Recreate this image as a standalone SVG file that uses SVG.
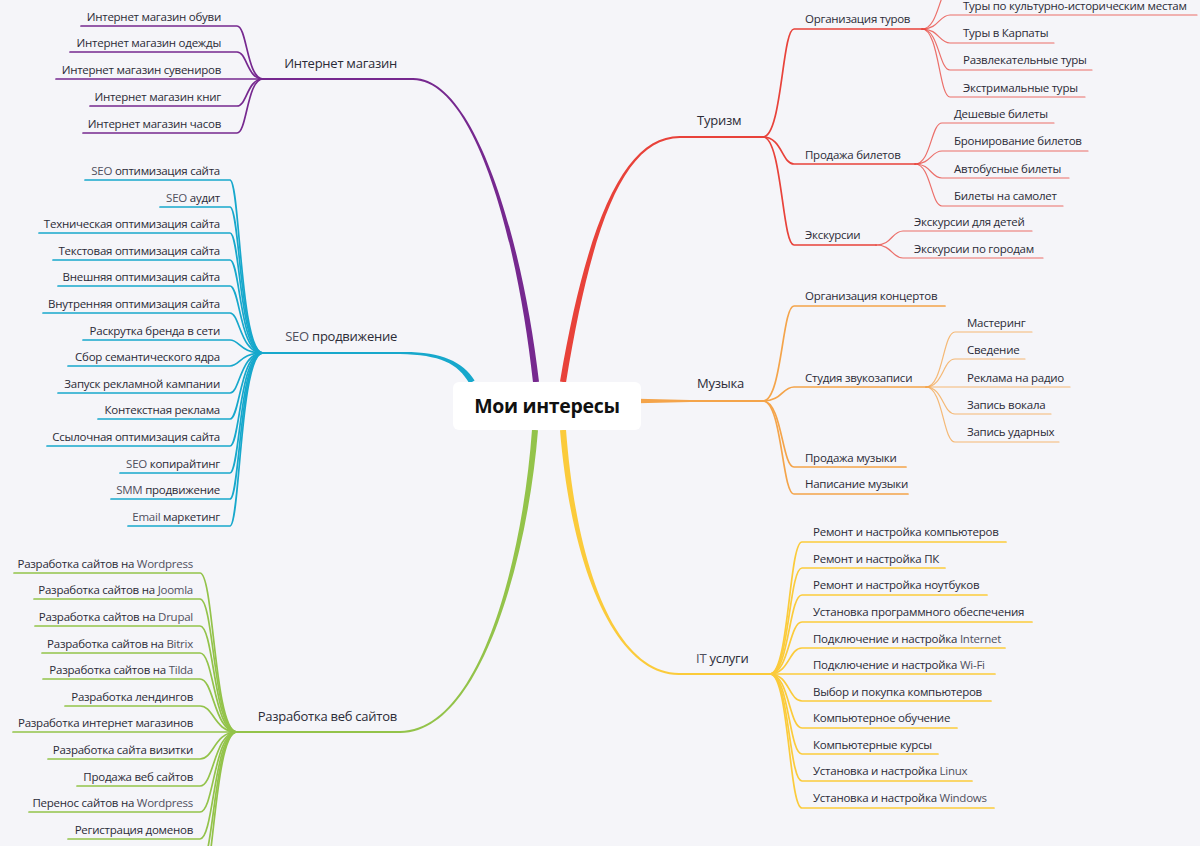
<svg xmlns="http://www.w3.org/2000/svg" width="1200" height="846" viewBox="0 0 1200 846">
<style>
text{font-family:"Open Sans","Noto Sans","DejaVu Sans",sans-serif;fill:#2b2b37}
.c{font-size:11.5px;letter-spacing:-0.25px}
.m{font-size:13px;letter-spacing:-0.25px}
.l{text-anchor:end}
.lt{fill:#50505e}
.root{font-size:19.5px;font-weight:bold;fill:#111;text-anchor:middle;letter-spacing:-0.3px}
path{fill:none;stroke-linecap:round}
path.t{stroke:none}
.w2{stroke-width:1.7}
.w1{stroke-width:1.2;stroke-opacity:.75}
.pu{stroke:#76288f}.cy{stroke:#17a8cc}.gr{stroke:#93c34a}.rd{stroke:#e8423a}.or{stroke:#f4a44a}.ye{stroke:#fbcb3b}
path.fpu{fill:#76288f}path.fcy{fill:#17a8cc}path.fgr{fill:#93c34a}path.frd{fill:#e8423a}path.for{fill:#f4a44a}path.fye{fill:#fbcb3b}
</style>
<rect width="1200" height="846" fill="#f5f5f9"/>
<g id="connectors">
<path class="t fpu" d="M539,381.7 C522.5,239.7 475,77.5 413,78 L413,80 C475,80.5 517.5,240.3 533,382.3 Z"/>
<path class="t fcy" d="M474.6,380.5 C462.2,360.7 440,351.2 400,352 L400,354 C440,354.8 457.8,363.3 469.4,383.5 Z"/>
<path class="t fgr" d="M532,429.8 C522.5,559.8 480,730.5 400,731 L400,733 C480,733.5 527.5,560.2 538,430.2 Z"/>
<path class="t frd" d="M566,382.5 C592.5,220.4 625,138.5 680,138 L680,136 C625,135.5 587.5,219.6 560,381.5 Z"/>
<path class="t fye" d="M560,430.2 C572.5,580.2 620,675.5 679,675 L679,673 C620,672.5 577.5,579.8 566,429.8 Z"/>
<path class="t for" d="M638,398.8 L690,400 L690,402 L638,403.2 Z"/>
<path class="pu" stroke-width="2" d="M413,79 H263"/>
<path class="cy" stroke-width="2" d="M400,353 H263"/>
<path class="gr" stroke-width="2" d="M400,732 H237"/>
<path class="rd" stroke-width="2" d="M680,137 H763"/>
<path class="or" stroke-width="2" d="M690,401 H763"/>
<path class="ye" stroke-width="2" d="M679,674 H770"/>
<g class="pu w2">
<path d="M263,79 C247,79 247,26 237,26 H81"/>
<path d="M263,79 C247,79 247,52 237,52 H70"/>
<path d="M263,79 H56"/>
<path d="M263,79 C247,79 247,106 237,106 H90"/>
<path d="M263,79 C247,79 247,133 237,133 H83"/>
</g>
<g class="cy w2">
<path d="M263,353 C240,353 240,180 230,180 H85"/>
<path d="M263,353 C240,353 240,207 230,207 H160"/>
<path d="M263,353 C240,353 240,233 230,233 H39"/>
<path d="M263,353 C240,353 240,260 230,260 H53"/>
<path d="M263,353 C240,353 240,286 230,286 H58"/>
<path d="M263,353 C240,353 240,313 230,313 H43"/>
<path d="M263,353 C240,353 240,340 230,340 H83"/>
<path d="M263,353 C240,353 240,366 230,366 H68"/>
<path d="M263,353 C240,353 240,393 230,393 H58"/>
<path d="M263,353 C240,353 240,419 230,419 H98"/>
<path d="M263,353 C240,353 240,446 230,446 H47"/>
<path d="M263,353 C240,353 240,473 230,473 H120"/>
<path d="M263,353 C240,353 240,499 230,499 H111"/>
<path d="M263,353 C240,353 240,526 230,526 H128"/>
</g>
<g class="gr w2">
<path d="M237,732 C214,732 214,573 200,573 H14"/>
<path d="M237,732 C214,732 214,599 200,599 H34"/>
<path d="M237,732 C214,732 214,626 200,626 H35"/>
<path d="M237,732 C214,732 214,653 200,653 H42"/>
<path d="M237,732 C214,732 214,679 200,679 H43"/>
<path d="M237,732 C214,732 214,706 200,706 H65"/>
<path d="M237,732 H13"/>
<path d="M237,732 C214,732 214,759 200,759 H48"/>
<path d="M237,732 C214,732 214,786 200,786 H77"/>
<path d="M237,732 C214,732 214,812 200,812 H29"/>
<path d="M237,732 C214,732 214,839 200,839 H68"/>
<path d="M237,732 C214,732 214,866 200,866 H60"/>
<path d="M237,732 C214,732 214,892 200,892 H60"/>
</g>
<g class="rd w2">
<path d="M763,137 C782,137 782,29 794,29 H922"/>
<path d="M763,137 C782,137 782,164 794,164 H915"/>
<path d="M763,137 C782,137 782,245 794,245 H876"/>
</g>
<g class="rd w1">
<path d="M922,29 C939,29 939,-12 950,-12 H1150"/>
<path d="M922,29 C939,29 939,15 950,15 H1197"/>
<path d="M922,29 C939,29 939,43 950,43 H1054"/>
<path d="M922,29 C939,29 939,70 950,70 H1092"/>
<path d="M922,29 C939,29 939,97 950,97 H1085"/>
<path d="M915,164 C931,164 931,123 942,123 H1054"/>
<path d="M915,164 C931,164 931,151 942,151 H1088"/>
<path d="M915,164 C931,164 931,178 942,178 H1069"/>
<path d="M915,164 C931,164 931,206 942,206 H1063"/>
<path d="M876,245 C892,245 892,231 903,231 H1032"/>
<path d="M876,245 C892,245 892,258 903,258 H1043"/>
</g>
<g class="or w2">
<path d="M763,401 C782,401 782,306 794,306 H945"/>
<path d="M763,401 C782,401 782,387 794,387 H926"/>
<path d="M763,401 C782,401 782,467 794,467 H906"/>
<path d="M763,401 C782,401 782,494 794,494 H908"/>
</g>
<g class="or w1">
<path d="M926,387 C943,387 943,332 955,332 H1032"/>
<path d="M926,387 C943,387 943,359 955,359 H1025"/>
<path d="M926,387 H1070"/>
<path d="M926,387 C943,387 943,414 955,414 H1051"/>
<path d="M926,387 C943,387 943,442 955,442 H1059"/>
</g>
<g class="ye w2">
<path d="M770,674 C789,674 789,542 802,542 H1006"/>
<path d="M770,674 C789,674 789,568 802,568 H945"/>
<path d="M770,674 C789,674 789,595 802,595 H987"/>
<path d="M770,674 C789,674 789,622 802,622 H1032"/>
<path d="M770,674 C789,674 789,648 802,648 H1005"/>
<path d="M770,674 H995"/>
<path d="M770,674 C789,674 789,701 802,701 H991"/>
<path d="M770,674 C789,674 789,728 802,728 H957"/>
<path d="M770,674 C789,674 789,754 802,754 H938"/>
<path d="M770,674 C789,674 789,781 802,781 H972"/>
<path d="M770,674 C789,674 789,808 802,808 H994"/>
</g>
</g>
<g id="root">
<rect x="453" y="382" width="188" height="48" rx="6" fill="#fff"/>
<text class="root" x="547" y="413">Мои интересы</text>
</g>
<g id="shop">
<text class="m l" x="397" y="68">Интернет магазин</text>
<text class="c l" x="221" y="20.5">Интернет магазин обуви</text>
<text class="c l" x="221" y="46.5">Интернет магазин одежды</text>
<text class="c l" x="221" y="73.5">Интернет магазин сувениров</text>
<text class="c l" x="221" y="100.5">Интернет магазин книг</text>
<text class="c l" x="221" y="127.5">Интернет магазин часов</text>
</g>
<g id="seo">
<text class="m l" x="397" y="341"><tspan class="lt">SEO</tspan> продвижение</text>
<text class="c l" x="220" y="174.5"><tspan class="lt">SEO</tspan> оптимизация сайта</text>
<text class="c l" x="220" y="201.5"><tspan class="lt">SEO</tspan> аудит</text>
<text class="c l" x="220" y="227.5">Техническая оптимизация сайта</text>
<text class="c l" x="220" y="254.5">Текстовая оптимизация сайта</text>
<text class="c l" x="220" y="280.5">Внешняя оптимизация сайта</text>
<text class="c l" x="220" y="307.5">Внутренняя оптимизация сайта</text>
<text class="c l" x="220" y="334.5">Раскрутка бренда в сети</text>
<text class="c l" x="220" y="360.5">Сбор семантического ядра</text>
<text class="c l" x="220" y="387.5">Запуск рекламной кампании</text>
<text class="c l" x="220" y="413.5">Контекстная реклама</text>
<text class="c l" x="220" y="440.5">Ссылочная оптимизация сайта</text>
<text class="c l" x="220" y="467.5"><tspan class="lt">SEO</tspan> копирайтинг</text>
<text class="c l" x="220" y="493.5"><tspan class="lt">SMM</tspan> продвижение</text>
<text class="c l" x="220" y="520.5"><tspan class="lt">Email</tspan> маркетинг</text>
</g>
<g id="web">
<text class="m l" x="397" y="721">Разработка веб сайтов</text>
<text class="c l" x="193" y="567.5">Разработка сайтов на <tspan class="lt">Wordpress</tspan></text>
<text class="c l" x="193" y="593.5">Разработка сайтов на <tspan class="lt">Joomla</tspan></text>
<text class="c l" x="193" y="620.5">Разработка сайтов на <tspan class="lt">Drupal</tspan></text>
<text class="c l" x="193" y="647.5">Разработка сайтов на <tspan class="lt">Bitrix</tspan></text>
<text class="c l" x="193" y="673.5">Разработка сайтов на <tspan class="lt">Tilda</tspan></text>
<text class="c l" x="193" y="700.5">Разработка лендингов</text>
<text class="c l" x="193" y="726.5">Разработка интернет магазинов</text>
<text class="c l" x="193" y="753.5">Разработка сайта визитки</text>
<text class="c l" x="193" y="780.5">Продажа веб сайтов</text>
<text class="c l" x="193" y="806.5">Перенос сайтов на <tspan class="lt">Wordpress</tspan></text>
<text class="c l" x="193" y="833.5">Регистрация доменов</text>
</g>
<g id="tourism">
<text class="m" x="697" y="125">Туризм</text>
<text class="c" x="805" y="23">Организация туров</text>
<text class="c" x="805" y="158.5">Продажа билетов</text>
<text class="c" x="805" y="239">Экскурсии</text>
<text class="c" x="963" y="10">Туры по культурно-историческим местам</text>
<text class="c" x="963" y="37">Туры в Карпаты</text>
<text class="c" x="963" y="64">Развлекательные туры</text>
<text class="c" x="963" y="91.5">Экстримальные туры</text>
<text class="c" x="954" y="117.5">Дешевые билеты</text>
<text class="c" x="954" y="145">Бронирование билетов</text>
<text class="c" x="954" y="172.5">Автобусные билеты</text>
<text class="c" x="954" y="200">Билеты на самолет</text>
<text class="c" x="914" y="225.5">Экскурсии для детей</text>
<text class="c" x="914" y="252.5">Экскурсии по городам</text>
</g>
<g id="music">
<text class="m" x="697" y="388">Музыка</text>
<text class="c" x="805" y="300">Организация концертов</text>
<text class="c" x="805" y="381.5">Студия звукозаписи</text>
<text class="c" x="805" y="461.5">Продажа музыки</text>
<text class="c" x="805" y="488">Написание музыки</text>
<text class="c" x="967" y="326.5">Мастеринг</text>
<text class="c" x="967" y="353.5">Сведение</text>
<text class="c" x="967" y="381.5">Реклама на радио</text>
<text class="c" x="967" y="408.5">Запись вокала</text>
<text class="c" x="967" y="436">Запись ударных</text>
</g>
<g id="it">
<text class="m" x="696" y="663"><tspan class="lt">IT</tspan> услуги</text>
<text class="c" x="813" y="536">Ремонт и настройка компьютеров</text>
<text class="c" x="813" y="562.5">Ремонт и настройка ПК</text>
<text class="c" x="813" y="589">Ремонт и настройка ноутбуков</text>
<text class="c" x="813" y="616">Установка программного обеспечения</text>
<text class="c" x="813" y="642.5">Подключение и настройка <tspan class="lt">Internet</tspan></text>
<text class="c" x="813" y="668.5">Подключение и настройка <tspan class="lt">Wi-Fi</tspan></text>
<text class="c" x="813" y="695.5">Выбор и покупка компьютеров</text>
<text class="c" x="813" y="722">Компьютерное обучение</text>
<text class="c" x="813" y="748.5">Компьютерные курсы</text>
<text class="c" x="813" y="775">Установка и настройка <tspan class="lt">Linux</tspan></text>
<text class="c" x="813" y="802">Установка и настройка <tspan class="lt">Windows</tspan></text>
</g>
</svg>
